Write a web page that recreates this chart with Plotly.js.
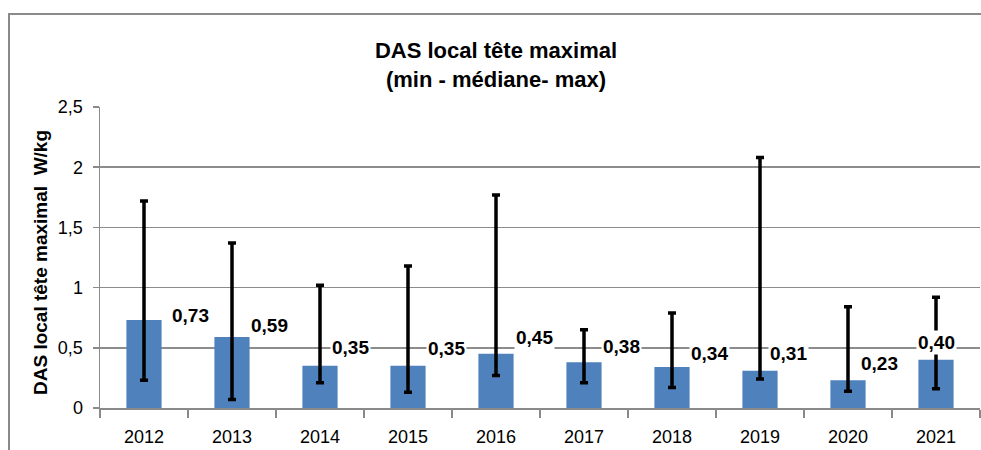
<!DOCTYPE html>
<html>
<head>
<meta charset="utf-8">
<script src="https://cdn.plot.ly/plotly-3.0.1.min.js"></script>
<style>
  html, body { margin: 0; padding: 0; background: #fff; }
  #wrap { position: relative; width: 981px; height: 450px; overflow: hidden; }
  #chart { position: absolute; left: 0; top: 0; width: 981px; height: 450px; }
  #frame { position: absolute; left: 8px; top: 13px; width: 990px; height: 460px;
           border-top: 2px solid #8a8a8a; border-left: 2px solid #8a8a8a; pointer-events: none; }
</style>
</head>
<body>
<div id="wrap">
  <div id="chart"></div>
  <div id="frame"></div>
</div>
<script>
// Data
const years   = ['2012', '2013', '2014', '2015', '2016', '2017', '2018', '2019', '2020', '2021'];
const medians = [0.73, 0.59, 0.35, 0.35, 0.45, 0.38, 0.34, 0.31, 0.23, 0.40];
const minima  = [0.23, 0.07, 0.21, 0.13, 0.27, 0.21, 0.17, 0.24, 0.14, 0.16];
const maxima  = [1.72, 1.37, 1.02, 1.18, 1.77, 0.65, 0.79, 2.08, 0.84, 0.92];
const yTickVals = [0, 0.5, 1, 1.5, 2, 2.5];
const yTickText = ['0', '0,5', '1', '1,5', '2', '2,5'];

// Label placement (pixel shifts relative to the bar top)
const labelDx = [46.5, 37.7, 30, 38, 38, 37.5, 37.3, 28, 31.7, 0.3];
const labelDy = [5, 11.7, 18, 17, 16.5, 15.5, 13.7, 16.7, 17, 17];

const fmt = v => v.toFixed(2).replace('.', ',');
const FONT = 'Liberation Sans, Arial, sans-serif';

const trace = {
  type: 'bar',
  x: years,
  y: medians,
  marker: { color: '#4F81BD' },
  error_y: {
    type: 'data',
    symmetric: false,
    array: maxima.map((m, i) => m - medians[i]),
    arrayminus: minima.map((m, i) => medians[i] - m),
    color: '#000000',
    thickness: 3.5,
    width: 4,
    visible: true
  },
  hoverinfo: 'none'
};

const annotations = years.map((yr, i) => ({
  x: i,
  y: medians[i],
  xref: 'x',
  yref: 'y',
  text: fmt(medians[i]),
  showarrow: false,
  xanchor: 'center',
  yanchor: 'middle',
  xshift: labelDx[i],
  yshift: labelDy[i],
  bgcolor: '#ffffff',
  borderpad: 1,
  font: { family: FONT, size: 19, color: '#000000', weight: 'bold' }
}));

// y-axis title drawn as a rotated annotation
annotations.push({
  xref: 'paper',
  yref: 'paper',
  x: (40 - 100) / 880,
  y: (408 - 263) / 301,
  xanchor: 'center',
  yanchor: 'middle',
  textangle: -90,
  showarrow: false,
  text: '<b>DAS local tête maximal\u00a0\u00a0W/kg</b>',
  font: { family: FONT, size: 19, color: '#000000' }
});

const layout = {
  width: 981,
  height: 450,
  margin: { l: 100, r: 1, t: 107, b: 42, pad: 0 },
  paper_bgcolor: 'rgba(0,0,0,0)',
  plot_bgcolor: '#ffffff',
  showlegend: false,
  bargap: 0.6,
  title: {
    text: '<b>DAS local tête maximal</b><br><b>(min - médiane- max)</b>',
    x: 496 / 981,
    xref: 'container',
    xanchor: 'center',
    y: 1 - 58 / 450,
    yref: 'container',
    yanchor: 'middle',
    font: { family: FONT, size: 22, color: '#000000' }
  },
  xaxis: {
    type: 'category',
    range: [-0.5, years.length - 0.5],
    showline: true,
    linecolor: '#8a8a8a',
    linewidth: 1.5,
    ticks: 'outside',
    tickson: 'boundaries',
    ticklen: 8,
    tickcolor: '#8a8a8a',
    tickwidth: 1.5,
    showgrid: false,
    ticklabelstandoff: 12,
    tickfont: { family: FONT, size: 18, color: '#000000' },
    automargin: false,
    fixedrange: true
  },
  yaxis: {
    range: [0, 2.5],
    tickvals: yTickVals,
    ticktext: yTickText,
    showline: true,
    linecolor: '#8a8a8a',
    linewidth: 1.5,
    ticks: 'outside',
    ticklen: 6,
    tickcolor: '#8a8a8a',
    tickwidth: 1.5,
    showgrid: true,
    gridcolor: '#8c8c8c',
    gridwidth: 1.5,
    zeroline: false,
    ticklabelstandoff: 6,
    tickfont: { family: FONT, size: 18, color: '#000000' },
    automargin: false,
    fixedrange: true
  },
  annotations: annotations
};

Plotly.newPlot('chart', [trace], layout, { displayModeBar: false, staticPlot: true });
</script>
</body>
</html>
